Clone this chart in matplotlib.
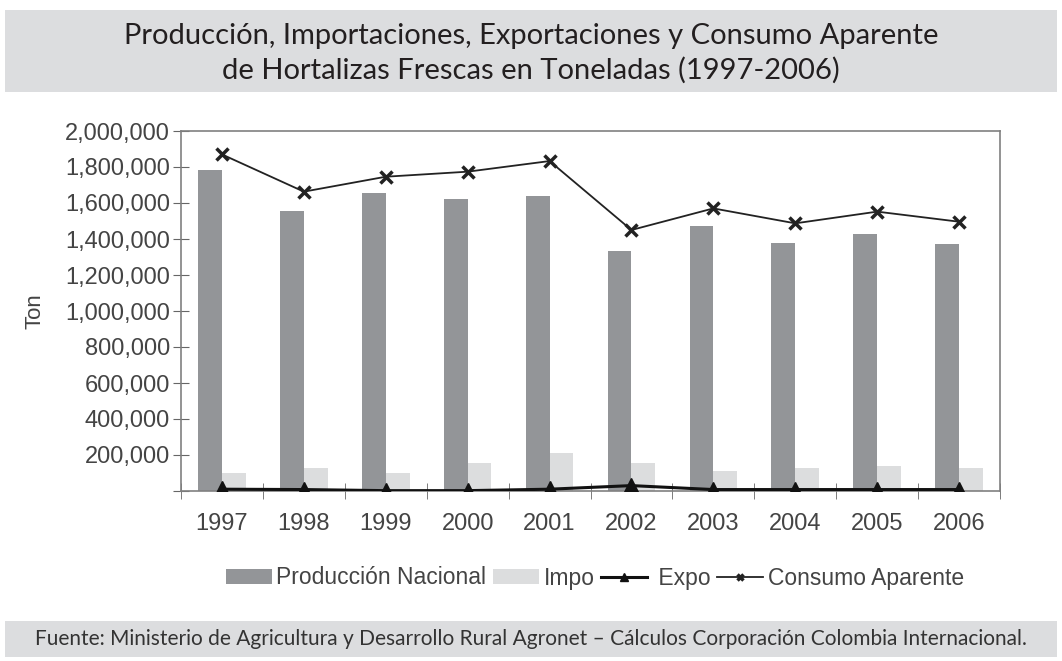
import numpy as np
import matplotlib.pyplot as plt
from matplotlib.patches import Rectangle
from matplotlib.ticker import FuncFormatter

years = ["1997", "1998", "1999", "2000", "2001", "2002", "2003", "2004", "2005", "2006"]
produccion = [1783000, 1557000, 1657000, 1624000, 1641000, 1333000, 1470000, 1380000, 1430000, 1374000]
impo = [100000, 128000, 100000, 154000, 209000, 154000, 113000, 128000, 137000, 128000]
expo = [10000, 8000, 2000, 2000, 10000, 30000, 8000, 8000, 8000, 8000]
consumo = [1870000, 1663000, 1746000, 1774000, 1833000, 1450000, 1570000, 1487000, 1552000, 1496000]

plt.rcParams['font.family'] = ['Liberation Sans', 'DejaVu Sans']

fig = plt.figure(figsize=(10.62, 6.61), dpi=100)

# title band
fig.patches.append(Rectangle((0.005, 1 - 92 / 661), 0.99, 82 / 661, transform=fig.transFigure,
                             facecolor="#dcdddf", edgecolor="none", zorder=0))
fig.text(0.5, 1 - 36 / 661, "Producción, Importaciones, Exportaciones y Consumo Aparente",
         ha="center", va="center", fontsize=21, family="Lato", color="#231f20")
fig.text(0.5, 1 - 70 / 661, "de Hortalizas Frescas en Toneladas (1997-2006)",
         ha="center", va="center", fontsize=21, family="Lato", color="#231f20")

# footer band
fig.patches.append(Rectangle((0.005, 1 - 657 / 661), 0.99, 36 / 661, transform=fig.transFigure,
                             facecolor="#dcdddf", edgecolor="none", zorder=0))
fig.text(0.5, 1 - 639 / 661,
         "Fuente: Ministerio de Agricultura y Desarrollo Rural Agronet – Cálculos Corporación Colombia Internacional.",
         ha="center", va="center", fontsize=15, family="Lato", color="#333333")

ax = fig.add_axes([181 / 1062, 1 - 491 / 661, 819 / 1062, 360 / 661])
x = np.arange(len(years))
w = 0.29
ax.bar(x - w / 2, produccion, width=w, color="#939598", label="Producción Nacional", zorder=2)
ax.bar(x + w / 2, impo, width=w, color="#dcddde", label="Impo", zorder=2)
ax.plot(x, expo, color="#111111", lw=2.2, marker="^", ms=11, label=" Expo", zorder=3)
ax.plot(x, consumo, color="#222222", lw=1.3, marker="x", ms=9, mew=2.5, label="Consumo Aparente", zorder=3)

ax.set_xlim(-0.5, len(years) - 0.5)
ax.set_ylim(0, 2000000)
ax.set_yticks(np.arange(0, 2000001, 200000))
ax.yaxis.set_major_formatter(FuncFormatter(lambda v, p: "" if v == 0 else f"{int(v):,}"))
ax.set_xticks(x)
ax.set_xticklabels(years)
ax.set_xticks(np.arange(-0.5, len(years)), minor=True)
ax.tick_params(axis="x", which="major", length=0, pad=16, labelsize=17, labelcolor="#444444")
ax.tick_params(axis="x", which="minor", length=12, direction="inout", color="#666666")
ax.tick_params(axis="y", length=12, direction="inout", color="#666666", labelsize=17,
               labelcolor="#444444", pad=2)
for s in ax.spines.values():
    s.set_color("#808080")
    s.set_linewidth(1.2)
ax.set_ylabel("Ton", fontsize=16, color="#444444", labelpad=14)

h, l = ax.get_legend_handles_labels()
order = [2, 3, 0, 1]
fig.legend([h[i] for i in order], [l[i] for i in order], loc="center", ncol=4,
           bbox_to_anchor=(0.56, 1 - 578 / 661), frameon=False, fontsize=16.5,
           handlelength=2.0, handleheight=0.6, handletextpad=0.2, columnspacing=0.3,
           labelcolor="#444444", markerscale=0.55)

fig.savefig("out.png", dpi=100)
